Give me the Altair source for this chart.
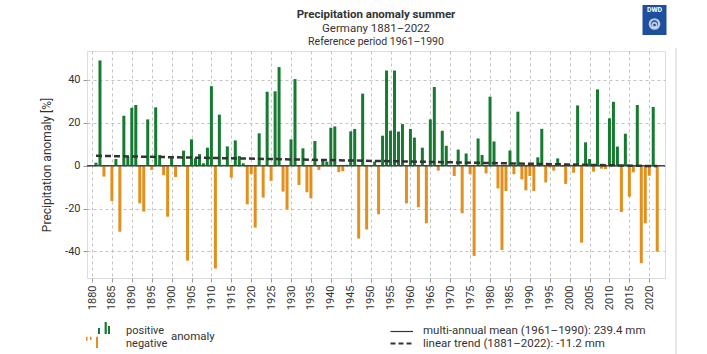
import altair as alt
import pandas as pd

years = list(range(1881, 2023))
anomaly = [
    1.4, 49.1, -5.1, 0.3, -16.5, 3.1, -30.8, 23.3, 4.2, 27.0,
    28.3, -17.6, -21.4, 21.6, -2.0, 27.2, 5.0, -4.4, -23.8, 4.2,
    -5.3, 0.3, 7.0, -44.3, 12.3, 3.4, 5.4, 1.1, 8.4, 37.1,
    -48.0, 23.8, 0.4, 9.0, -5.6, 11.8, 4.5, 1.1, -18.0, -4.0,
    -28.9, 15.1, -14.9, 34.5, -7.1, 34.7, 46.0, -12.1, -20.4, 12.3,
    40.4, -9.0, 8.1, -12.4, -15.2, 11.5, -2.0, 2.2, 1.9, 17.7,
    18.3, -3.0, -2.6, 0.4, 16.0, 17.1, -34.0, 33.6, -29.8, -0.4,
    1.9, -22.7, 14.0, 44.4, 16.3, 44.4, 15.9, 19.4, -17.6, 17.1,
    13.1, -19.4, 8.4, -26.9, 21.6, 36.7, -2.3, 16.3, 9.3, 0.3,
    -4.8, 7.5, -22.2, 5.7, -4.0, -42.1, 12.7, 5.0, -3.6, 32.2,
    11.3, -10.6, -39.3, -11.8, 7.1, -4.0, 25.2, -6.4, -11.5, -4.8,
    -11.8, 3.9, 17.2, -7.8, -0.8, -2.3, 3.4, -0.4, -8.5, 0.5,
    -3.3, 28.1, -35.9, 10.9, 3.1, -2.8, 35.6, -1.4, -1.6, 22.1,
    29.8, 8.9, -21.6, 14.9, -14.5, -3.1, 28.3, -45.5, -26.9, -4.7,
    27.4, -40.1,
]
trend_years = [1881, 2022]
trend_values = [4.6, -0.2]
x_ticks = list(range(1880, 2021, 5))
y_ticks = [-40, -20, 0, 20, 40]

GREEN = "#177a31"
ORANGE = "#e1901d"
FONT = "Roboto, DejaVu Sans Condensed, sans-serif"
TXT = "#333333"

df = pd.DataFrame({"year": years, "anomaly": anomaly})
trend_df = pd.DataFrame({"year": trend_years, "anomaly": trend_values})
zero_df = pd.DataFrame({"anomaly": [0.0]})
one = pd.DataFrame({"a": [0]})

xs = alt.Scale(domain=[1880, 2022.7], nice=False, zero=False)
ys = alt.Scale(domain=[-52.4, 53.5], nice=False, zero=False)

x_axis = alt.Axis(values=x_ticks, labelAngle=-90, labelExpr="'' + datum.value",
                  labelOverlap=False, labelBound=False, labelFlush=False,
                  grid=True, gridDash=[3, 3], gridColor="#aaaaaa", gridWidth=0.7,
                  tickSize=4, tickColor="#999999", domain=False,
                  labelFontSize=11, labelPadding=3, labelColor=TXT, labelFont=FONT)
y_axis = alt.Axis(values=y_ticks, labelExpr="'' + datum.value",
                  grid=True, gridDash=[3, 3], gridColor="#aaaaaa", gridWidth=0.7,
                  tickSize=4, tickColor="#999999", domain=False,
                  labelFontSize=11, labelPadding=3, labelColor=TXT, labelFont=FONT,
                  titleFontSize=12, titleFontWeight="normal", titleColor=TXT,
                  titleFont=FONT, titlePadding=11)

X = alt.X("year:Q", scale=xs, title=None, axis=x_axis)
Y = alt.Y("anomaly:Q", scale=ys, title="Precipitation anomaly [%]", axis=y_axis)

bars = alt.Chart(df).mark_bar(size=3).encode(
    x=X, y=Y,
    color=alt.condition(alt.datum.anomaly >= 0, alt.value(GREEN), alt.value(ORANGE)),
)

zero = alt.Chart(zero_df).mark_rule(color="#444444", strokeWidth=1.5).encode(y=Y)

trend = alt.Chart(trend_df).mark_line(color="#333333", strokeWidth=2.5, strokeDash=[6, 3]).encode(
    x=X, y=Y
)


def txt(s, x, y, size=11.5, weight="normal", align="left", color=TXT):
    return alt.Chart(one).mark_text(
        font=FONT, fontSize=size, fontWeight=weight, align=align, baseline="middle", color=color
    ).encode(x=alt.value(x), y=alt.value(y), text=alt.value(s))


def box(x, x2, y, y2, color):
    return alt.Chart(one).mark_rect(color=color).encode(
        x=alt.value(x), x2=alt.value(x2), y=alt.value(y), y2=alt.value(y2)
    )


def hline(x, x2, y, dash=None, width=1.2, color="#333333"):
    kw = dict(color=color, strokeWidth=width)
    if dash:
        kw["strokeDash"] = dash
    return alt.Chart(one).mark_rule(**kw).encode(
        x=alt.value(x), x2=alt.value(x2), y=alt.value(y)
    )


deco = [
    # titles
    txt("Precipitation anomaly summer", 289, -36, size=11.5, weight="bold", align="center"),
    txt("Germany 1881–2022", 289, -22, size=11.5, align="center"),
    txt("Reference period 1961–1990", 289, -9, size=10.5, align="center"),
    # DWD logo
    box(555.5, 579.5, -46, -16, "#1d4f9e"),
    txt("DWD", 567.5, -41, size=7, weight="bold", align="center", color="white"),
    alt.Chart(one).mark_point(shape="circle", filled=False, color="white", strokeWidth=2.2, size=90)
      .encode(x=alt.value(567.5), y=alt.value(-27)),
    alt.Chart(one).mark_point(shape="circle", filled=False, color="white", strokeWidth=1.8, size=20)
      .encode(x=alt.value(567.5), y=alt.value(-26)),
    # outer frame line
    alt.Chart(one).mark_rule(color="#cccccc", strokeWidth=1).encode(
        x=alt.value(589), y=alt.value(-3), y2=alt.value(303)),
    # legend icon
    box(-1, 0.5, 285.7, 289.7, ORANGE),
    box(3, 4.5, 285.7, 289, ORANGE),
    box(9, 11, 285.7, 297, ORANGE),
    box(11, 13, 277, 283, GREEN),
    box(17.6, 19.8, 271, 283, GREEN),
    box(21, 23, 275, 283, GREEN),
    txt("positive", 39, 280, size=11),
    txt("negative", 39, 292.5, size=11),
    txt("anomaly", 84, 286, size=11.5),
    hline(303.5, 326, 280.5, width=1.2),
    hline(303.5, 326, 292.5, dash=[5, 3], width=2.2),
    txt("multi-annual mean  (1961–1990): 239.4 mm", 336, 280),
    txt("linear trend (1881–2022): -11.2 mm", 336, 292.5),
]

chart = alt.layer(bars, zero, trend, *deco).properties(
    width=578, height=227,
    autosize=alt.AutoSizeParams(type="none"),
    padding={"left": 87, "top": 51, "right": 42, "bottom": 76},
).configure_view(stroke="#bbbbbb", strokeWidth=1).configure(background="white")

chart.save("out.html", embed_options={"renderer": "svg", "actions": False})
